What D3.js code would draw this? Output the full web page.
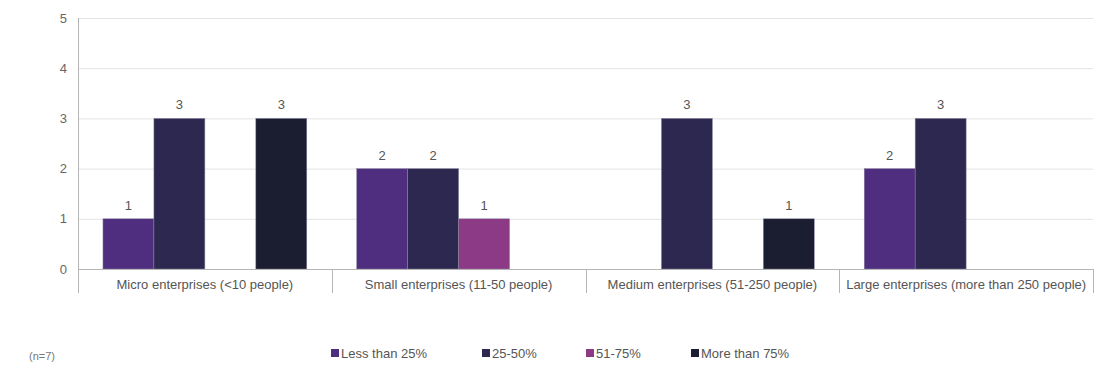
<!DOCTYPE html>
<html><head><meta charset="utf-8">
<script src="https://cdn.jsdelivr.net/npm/d3@7"></script>
<style>body{margin:0;background:#fff;}svg{display:block;font-family:"Liberation Sans",Arial,sans-serif;}</style>
</head><body><svg id="c" width="1109" height="371"></svg>
<script>
const categories = ["Micro enterprises (<10 people)","Small enterprises (11-50 people)","Medium enterprises (51-250 people)","Large enterprises (more than 250 people)"];
const seriesNames = ["Less than 25%","25-50%","51-75%","More than 75%"];
const seriesColors = ["#4f2d7f","#2d2850","#8d3a86","#1b1e30"];
const lessThan25 = [1,2,0,2];
const from25to50 = [3,2,3,3];
const from51to75 = [0,1,0,0];
const moreThan75 = [3,0,1,0];
const yTicks = [0,1,2,3,4,5];
const seriesValues = [lessThan25, from25to50, from51to75, moreThan75];

const svg = d3.select("#c");
const L = 78, R = 1093, T = 18, B = 269;
const FS = 13;
const x0 = d3.scaleBand().domain(categories).range([L,R]).paddingInner(0).paddingOuter(0);
const x1 = d3.scaleBand().domain(seriesNames).range([0,x0.bandwidth()]).paddingInner(0).paddingOuter(0.49);
const y = d3.scaleLinear().domain([0,5]).range([B,T]);

// gridlines
svg.append("g").selectAll("line").data(yTicks.filter(d=>d>0)).join("line")
  .attr("x1",L).attr("x2",R).attr("y1",d=>y(d)+0.5).attr("y2",d=>y(d)+0.5)
  .attr("stroke","#e3e3e3").attr("stroke-width",1);

// y axis labels
const ya = svg.append("g").attr("transform",`translate(${L},0)`)
  .call(d3.axisLeft(y).tickValues(yTicks).tickSize(0).tickPadding(11).tickFormat(d3.format("d")));
ya.select(".domain").remove();
ya.selectAll("text").attr("font-size",FS).attr("fill","#666").attr("font-family","Liberation Sans, Arial, sans-serif");

// bars
const groups = svg.append("g").selectAll("g").data(categories).join("g")
  .attr("transform",d=>`translate(${x0(d)},0)`);
groups.each(function(cat,ci){
  const g = d3.select(this);
  const data = seriesNames.map((s,si)=>({s,si,v:seriesValues[si][ci]})).filter(d=>d.v>0);
  g.selectAll("rect").data(data).join("rect")
    .attr("x",d=>x1(d.s)).attr("width",x1.bandwidth())
    .attr("y",d=>y(d.v)).attr("height",d=>B-y(d.v))
    .attr("fill",d=>seriesColors[d.si]).attr("stroke","#8a86a0").attr("stroke-width",0.5);
  g.selectAll("text").data(data).join("text")
    .attr("x",d=>x1(d.s)+x1.bandwidth()/2).attr("y",d=>y(d.v)-9)
    .attr("text-anchor","middle").attr("font-size",FS).attr("fill","#555").text(d=>d.v);
});

// bottom axis line
svg.append("line").attr("x1",L).attr("x2",R).attr("y1",B+0.5).attr("y2",B+0.5).attr("stroke","#b5b5b5");
// left axis line
svg.append("line").attr("x1",L+0.5).attr("x2",L+0.5).attr("y1",T).attr("y2",293).attr("stroke","#b5b5b5");
// category separators
const seps = categories.map(c=>x0(c)+x0.bandwidth());
svg.append("g").selectAll("line").data(seps).join("line")
  .attr("x1",d=>Math.round(d)+0.5).attr("x2",d=>Math.round(d)+0.5).attr("y1",B).attr("y2",293).attr("stroke","#b5b5b5");
// category labels
svg.append("g").selectAll("text").data(categories).join("text")
  .attr("x",d=>x0(d)+x0.bandwidth()/2).attr("y",289).attr("text-anchor","middle")
  .attr("font-size",FS).attr("fill","#555").text(d=>d);

// legend
const legendX = [331,482,586,691];
const lg = svg.append("g").selectAll("g").data(seriesNames).join("g")
  .attr("transform",(d,i)=>`translate(${legendX[i]},349)`);
lg.append("rect").attr("width",8).attr("height",8).attr("fill",(d,i)=>seriesColors[i]);
lg.append("text").attr("x",10).attr("y",9).attr("font-size",FS).attr("fill","#555").text(d=>d);

svg.append("text").attr("x",29).attr("y",360).attr("font-size",11).attr("fill","#777").text("(n=7)");
</script></body></html>
